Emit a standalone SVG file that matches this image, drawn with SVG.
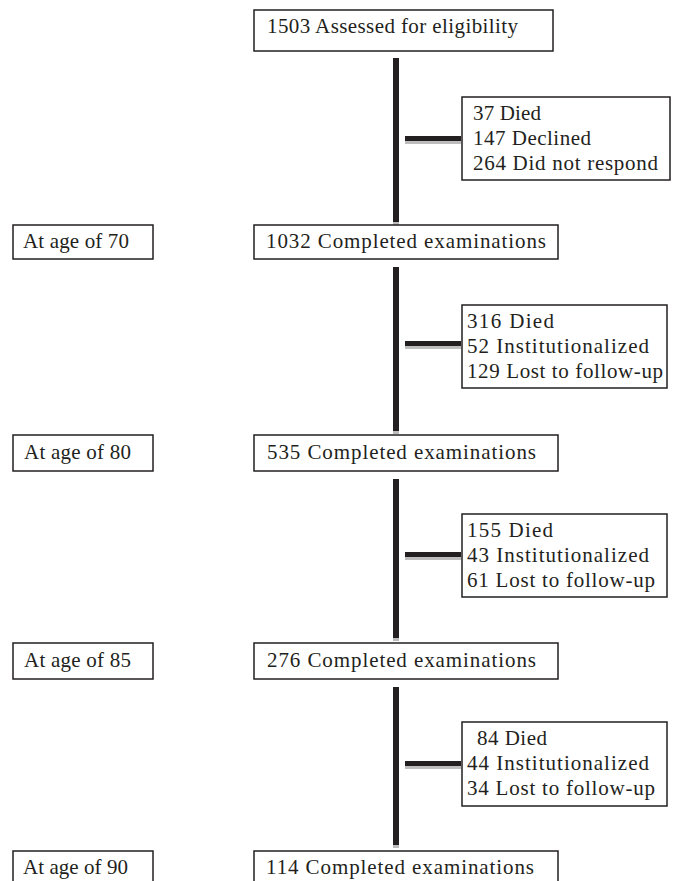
<svg xmlns="http://www.w3.org/2000/svg" width="684" height="881" viewBox="0 0 684 881">
<style>
.box{fill:#fff;stroke:#231f20;stroke-width:1.5}
.t{font-family:"Liberation Serif","DejaVu Serif",serif;font-size:21px;fill:#231f20}
.v{fill:#231f20}
.bar{fill:#231f20}
.sh{fill:#bdbdbd}
</style>
<rect width="684" height="881" fill="#fff"/>
<g id="connectors">
<rect class="v" x="393" y="58" width="6" height="164"/><rect class="sh" x="393" y="222" width="6" height="3"/>
<rect class="v" x="393" y="267" width="6" height="164"/><rect class="sh" x="393" y="431" width="6" height="3"/>
<rect class="v" x="393" y="479" width="6" height="159"/><rect class="sh" x="393" y="638" width="6" height="3"/>
<rect class="v" x="393" y="687" width="6" height="158"/><rect class="sh" x="393" y="845" width="6" height="3"/>
<rect class="bar" x="405" y="136" width="56" height="5"/><rect class="sh" x="405" y="141" width="56" height="3"/>
<rect class="bar" x="405" y="341" width="56" height="5"/><rect class="sh" x="405" y="346" width="56" height="3"/>
<rect class="bar" x="405" y="552" width="56" height="5"/><rect class="sh" x="405" y="557" width="56" height="3"/>
<rect class="bar" x="405" y="761" width="56" height="5"/><rect class="sh" x="405" y="766" width="56" height="3"/>
</g>
<g id="n-start"><rect class="box" x="254" y="10" width="299" height="41"/><text class="t" x="267" y="33" textLength="251">1503 Assessed for eligibility</text></g>
<g id="n-excl1"><rect class="box" x="462" y="97" width="208" height="83"/>
<text class="t" x="473" y="120" textLength="68">37 Died</text><text class="t" x="473" y="145" textLength="118">147 Declined</text><text class="t" x="473" y="170" textLength="185">264 Did not respond</text></g>
<g id="n-age70"><rect class="box" x="13" y="225" width="140" height="34"/><text class="t" x="23" y="248" textLength="106">At age of 70</text></g>
<g id="n-c70"><rect class="box" x="254" y="225" width="304" height="34"/><text class="t" x="266" y="248" textLength="280">1032 Completed examinations</text></g>
<g id="n-excl2"><rect class="box" x="462" y="305" width="205" height="83"/>
<text class="t" x="467" y="328" textLength="87">316 Died</text><text class="t" x="467" y="353" textLength="182">52 Institutionalized</text><text class="t" x="467" y="378" textLength="196">129 Lost to follow-up</text></g>
<g id="n-age80"><rect class="box" x="13" y="435" width="140" height="36"/><text class="t" x="24" y="459" textLength="107">At age of 80</text></g>
<g id="n-c80"><rect class="box" x="254" y="435" width="304" height="36"/><text class="t" x="267" y="459" textLength="269">535 Completed examinations</text></g>
<g id="n-excl3"><rect class="box" x="462" y="514" width="205" height="83"/>
<text class="t" x="467" y="537" textLength="86">155 Died</text><text class="t" x="467" y="562" textLength="182">43 Institutionalized</text><text class="t" x="467" y="587" textLength="188">61 Lost to follow-up</text></g>
<g id="n-age85"><rect class="box" x="13" y="643" width="140" height="36"/><text class="t" x="24" y="667" textLength="107">At age of 85</text></g>
<g id="n-c85"><rect class="box" x="254" y="643" width="304" height="36"/><text class="t" x="267" y="667" textLength="269">276 Completed examinations</text></g>
<g id="n-excl4"><rect class="box" x="462" y="722" width="205" height="84"/>
<text class="t" x="477" y="745" textLength="70">84 Died</text><text class="t" x="467" y="770" textLength="182">44 Institutionalized</text><text class="t" x="467" y="795" textLength="188">34 Lost to follow-up</text></g>
<g id="n-age90"><rect class="box" x="13" y="851" width="140" height="40"/><text class="t" x="23" y="874" textLength="105">At age of 90</text></g>
<g id="n-c90"><rect class="box" x="254" y="851" width="304" height="40"/><text class="t" x="266" y="874" textLength="268">114 Completed examinations</text></g>
</svg>
